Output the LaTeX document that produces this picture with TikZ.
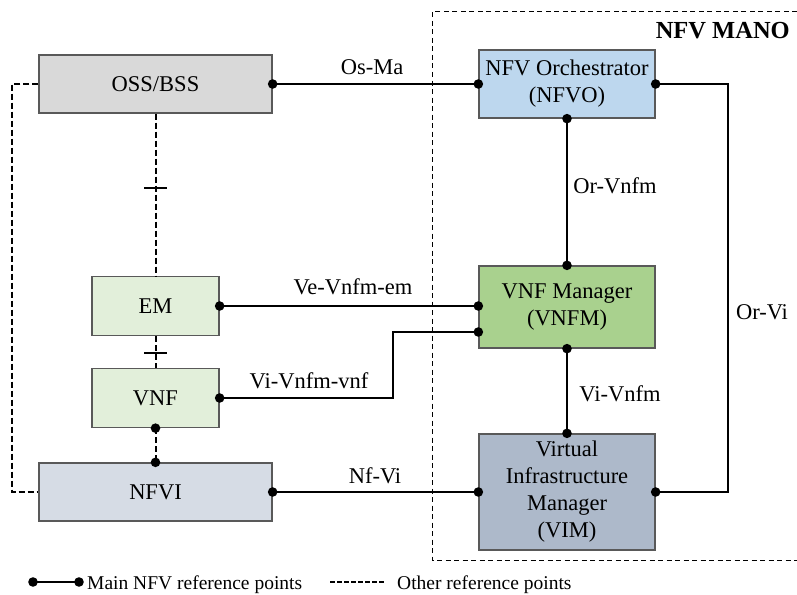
\documentclass[tikz,border=0pt]{standalone}
\usepackage{fontspec}
\setmainfont{Liberation Serif}
\begin{document}
\begin{tikzpicture}[x=1pt,y=-1pt,
  fn/.style={font=\fontsize{22.5pt}{27pt}\selectfont},
  block/.style={fn, draw=black!65, line width=1.3pt, inner sep=0pt, align=center, anchor=center},
  lbl/.style={fn, inner sep=0pt, anchor=center},
  mainref/.style={line width=2pt, black},
  otherref/.style={line width=2pt, black, dash pattern=on 6pt off 3pt},
  tickmark/.style={line width=2pt, black},
  legend/.style={font=\fontsize{19.5pt}{23pt}\selectfont, inner sep=0pt, anchor=base west}
]
\definecolor{cOSS}{HTML}{D9D9D9}
\definecolor{cNFVO}{HTML}{BDD7EE}
\definecolor{cVNF}{HTML}{E2EFDA}
\definecolor{cNFVI}{HTML}{D6DCE5}
\definecolor{cVNFM}{HTML}{A9D18E}
\definecolor{cVIM}{HTML}{ADB9CA}

\useasboundingbox (0,0) rectangle (797,594);

% NFV MANO frame (open towards the right edge)
\draw[line width=1pt, dash pattern=on 5pt off 3.5pt] (797,12) -- (432,12) -- (432,560) -- (797,560);
\node[font=\bfseries\fontsize{24.5pt}{28pt}\selectfont, inner sep=0pt, anchor=base east] (manotitle) at (790,39) {NFV MANO};

% functional blocks
\node[block, fill=cOSS,  minimum width=233pt, minimum height=58pt]  (oss)  at (155.5,84)  {OSS/BSS};
\node[block, fill=cNFVO, minimum width=176pt, minimum height=68pt]  (nfvo) at (567,84)    {NFV Orchestrator\\(NFVO)};
\node[block, fill=cVNF,  minimum width=127pt, minimum height=59pt]  (em)   at (155.5,306) {EM};
\node[block, fill=cVNF,  minimum width=127pt, minimum height=59pt]  (vnf)  at (155.5,398) {VNF};
\node[block, fill=cNFVI, minimum width=233pt, minimum height=58pt]  (nfvi) at (155.5,492) {NFVI};
\node[block, fill=cVNFM, minimum width=176pt, minimum height=82pt]  (vnfm) at (567,307)   {VNF Manager\\(VNFM)};
\node[block, fill=cVIM,  minimum width=176pt, minimum height=116pt] (vim)  at (567,492)   {Virtual\\Infrastructure\\Manager\\(VIM)};

% attachment points on the VNFM's left side
\coordinate (vnfmA) at ([yshift=1pt]vnfm.west);
\coordinate (vnfmB) at ([yshift=-25pt]vnfm.west);

% main reference points
\draw[mainref] (oss.east) -- (nfvo.west);
\draw[mainref] (nfvo.south) -- (vnfm.north);
\draw[mainref] (em.east) -- (vnfmA);
\draw[mainref] (vnf.east) -| (393,332) -- (vnfmB);
\draw[mainref] (vnfm.south) -- (vim.north);
\draw[mainref] (nfvo.east) -| (728,300) |- (vim.east);
\draw[mainref] (nfvi.east) -- (vim.west);

\foreach \p in {oss.east, nfvo.west, nfvo.south, vnfm.north, em.east, vnfmA,
                vnf.east, vnfmB, vnfm.south, vim.north, nfvo.east, vim.east,
                nfvi.east, vim.west, vnf.south, nfvi.north}
  \fill (\p) circle[radius=4.8pt];

% other reference points
\coordinate (tickA) at (155.5,188);
\coordinate (tickB) at (155.5,353);
\draw[otherref] (oss.south) -- (em.north);
\draw[otherref] (em.south) -- (vnf.north);
\draw[otherref] (vnf.south) -- (nfvi.north);
\draw[otherref] (oss.west) -- (12,84) -- (12,492) -- (nfvi.west);
\draw[tickmark] ([xshift=-11.5pt]tickA) -- ([xshift=11.5pt]tickA);
\draw[tickmark] ([xshift=-11.5pt]tickB) -- ([xshift=11.5pt]tickB);

% interface labels
\node[lbl] (lOsMa)   at (372,67)  {Os-Ma};
\node[lbl] (lOrVnfm) at (615,186) {Or-Vnfm};
\node[lbl] (lVeVnfm) at (353,287) {Ve-Vnfm-em};
\node[lbl] (lViVnf)  at (309,381) {Vi-Vnfm-vnf};
\node[lbl] (lViVnfm) at (620,394) {Vi-Vnfm};
\node[lbl] (lOrVi)   at (762,312) {Or-Vi};
\node[lbl] (lNfVi)   at (375,476) {Nf-Vi};

% legend
\coordinate (lgA) at (33,582);
\coordinate (lgB) at (79,582);
\draw[mainref] (lgA) -- (lgB);
\fill (lgA) circle[radius=4.8pt];
\fill (lgB) circle[radius=4.8pt];
\node[legend] (lgMain) at (87,589) {Main NFV reference points};
\coordinate (lgC) at (330,582);
\coordinate (lgD) at (386,582);
\draw[line width=1.5pt, dash pattern=on 4.5pt off 2.5pt] (lgC) -- (lgD);
\node[legend] (lgOther) at (397,589) {Other reference points};
\end{tikzpicture}
\end{document}
